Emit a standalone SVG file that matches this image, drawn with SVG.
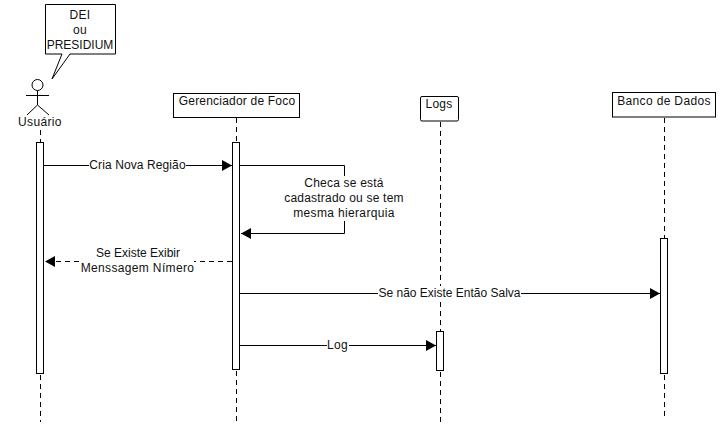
<svg xmlns="http://www.w3.org/2000/svg" width="720" height="430" viewBox="0 0 720 430">
<style>
text{font-family:"Liberation Sans",Arial,sans-serif;font-size:12px;fill:#111;text-anchor:middle;letter-spacing:.35px}
.s0{letter-spacing:0}
.s1{letter-spacing:.1px}
.s2{letter-spacing:.2px}
.box{fill:#fff;stroke:#000;stroke-width:1}
.l{fill:none;stroke:#000;stroke-width:1}
.d{fill:none;stroke:#000;stroke-width:1;stroke-dasharray:5 4}
.bg{fill:#fff;stroke:none}
</style>
<defs><marker id="a" markerUnits="userSpaceOnUse" markerWidth="11" markerHeight="12" refX="10" refY="6" orient="auto"><path d="M0 .5L10 6L0 11.500Z" fill="#000"/></marker></defs>
<rect width="720" height="430" fill="#fff"/>
<g id="lifelines">
<path class="d" d="M40.500 130V142M40.500 375V422"/>
<path class="d" d="M236.500 118V142M236.500 371V422"/>
<path class="d" d="M440.500 122V331M440.500 372V422"/>
<path class="d" d="M664.500 118V238M664.500 375V418"/>
</g>
<g id="note"><path class="box" d="M45.500 4.500H115.500V54H70L52 79L62 54H45.500Z"/>
<text x="80" y="19">DEI</text><text x="80" y="34">ou</text><text class="s0" x="80" y="49">PRESIDIUM</text></g>
<g id="usuario"><circle class="l" cx="37.500" cy="85" r="5.500"/><path class="l" d="M37.500 90.500V105M26 95.500H49M27 115L37.500 105L49 115"/><text x="40" y="126">Usuário</text></g>
<g id="gerenciador"><rect class="box" x="173.500" y="93.500" width="126" height="24"/><text class="s2" x="237" y="105">Gerenciador de Foco</text></g>
<g id="logs"><rect class="box" x="420.500" y="96.500" width="38" height="24.500" rx="1.500"/><text class="s2" x="439" y="108">Logs</text></g>
<g id="banco"><rect class="box" x="612.500" y="92.500" width="103" height="24.500"/><text x="664" y="105">Banco de Dados</text></g>
<g id="activations">
<rect class="box" x="36.500" y="142.500" width="7" height="231"/>
<rect class="box" x="232.500" y="142.500" width="7" height="227"/>
<rect class="box" x="436.500" y="331.500" width="7" height="39"/>
<rect class="box" x="660.500" y="238.500" width="7" height="135"/>
</g>
<g id="connectors">
<path class="l" d="M44 165.500H232" marker-end="url(#a)"/>
<path class="l" d="M240 165.500H344.500V233.500H241" marker-end="url(#a)"/>
<path class="d" d="M232 261.500H45" marker-end="url(#a)"/>
<path class="l" d="M240 293.500H660" marker-end="url(#a)"/>
<path class="l" d="M240 345.500H436" marker-end="url(#a)"/>
</g>
<g id="labels">
<rect class="bg" x="89" y="158" width="97" height="14"/><text class="s1" x="137.500" y="169">Cria Nova Região</text>
<rect class="bg" x="284" y="176" width="120" height="45"/><text class="s2" x="344" y="187">Checa se está</text><text class="s2" x="344" y="202">cadastrado ou se tem</text><text x="344" y="217">mesma hierarquia</text>
<rect class="bg" x="81" y="246" width="113" height="30"/><text class="s0" x="138" y="257">Se Existe Exibir</text><text x="137.500" y="272">Menssagem Nímero</text>
<rect class="bg" x="378" y="286" width="143" height="14"/><text class="s0" x="449.500" y="297">Se não Existe Então Salva</text>
<rect class="bg" x="327" y="338" width="22" height="14"/><text x="337.500" y="349">Log</text>
</g>
</svg>
